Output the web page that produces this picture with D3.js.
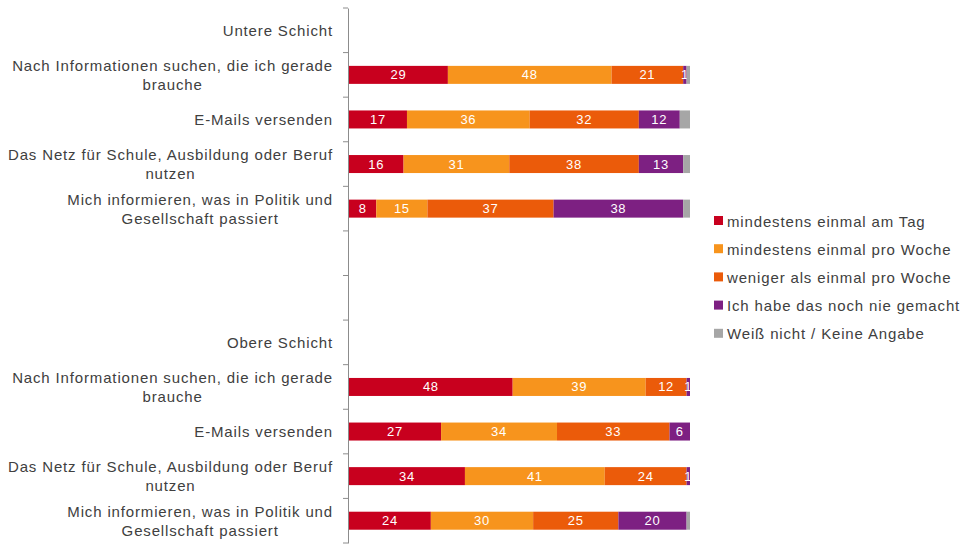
<!DOCTYPE html>
<html><head><meta charset="utf-8">
<script src="https://cdn.jsdelivr.net/npm/d3@7/dist/d3.min.js"></script>
<style>
html,body{margin:0;padding:0;background:#fff;}
svg text{font-family:"Liberation Sans",Arial,sans-serif;}
</style></head>
<body><svg id="c" width="963" height="546"></svg>
<script>
// Row labels (empty strings = spacer rows); "\n" separates lines
const categories = [
  "Untere Schicht",
  "Nach Informationen suchen, die ich gerade\nbrauche",
  "E-Mails versenden",
  "Das Netz für Schule, Ausbildung oder Beruf\nnutzen",
  "Mich informieren, was in Politik und\nGesellschaft passiert",
  "",
  "",
  "Obere Schicht",
  "Nach Informationen suchen, die ich gerade\nbrauche",
  "E-Mails versenden",
  "Das Netz für Schule, Ausbildung oder Beruf\nnutzen",
  "Mich informieren, was in Politik und\nGesellschaft passiert"
];
const seriesNames = [
  "mindestens einmal am Tag",
  "mindestens einmal pro Woche",
  "weniger als einmal pro Woche",
  "Ich habe das noch nie gemacht",
  "Weiß nicht / Keine Angabe"
];
const colors = ["#c8001e","#f7941d","#eb5b0a","#7d2082","#a6a6a6"];
// values per series, aligned to categories (null = no bar)
const tag    = [null,29,17,16,8, null,null, null,48,27,34,24];
const woche  = [null,48,36,31,15,null,null, null,39,34,41,30];
const weniger= [null,21,32,38,37,null,null, null,12,33,24,25];
const nie    = [null,1,12,13,38, null,null, null,1,6,1,20];
const wn     = [null,1,3,2,2,    null,null, null,0,0,0,1];
const series = [tag,woche,weniger,nie,wn];
const showLabel = [true,true,true,true,false];

const svg = d3.select("#c");
const textColor = "#404040";
const x0 = 349;
const x = d3.scaleLinear().domain([0,100]).range([x0, x0+341]);
const idx = categories.map((d,i)=>i);
const y = d3.scaleBand().domain(idx).range([8,543]).paddingInner(0).paddingOuter(0);
const barH = 18;

// axis
const axis = d3.axisLeft(y).tickSize(0).tickFormat("");
const ag = svg.append("g").attr("transform",`translate(${x0-1},0)`).call(axis);
ag.select(".domain").attr("stroke","#8c8c8c").attr("stroke-width",1);
// boundary ticks
const bounds = idx.map(i=>y(i)).concat([y(idx[idx.length-1])+y.bandwidth()]);
ag.selectAll(".bt").data(bounds).enter().append("line")
  .attr("x1",-5).attr("x2",0).attr("y1",d=>d).attr("y2",d=>d)
  .attr("stroke","#8c8c8c").attr("stroke-width",1);

// bars
const rows = idx.filter(i=>series[0][i]!==null);
series.forEach((s,si)=>{
  const g = svg.append("g");
  rows.forEach(i=>{
    let start = 0;
    for(let k=0;k<si;k++) start += series[k][i];
    const v = s[i];
    const cy = y(i)+y.bandwidth()/2;
    if(v>0){
      g.append("rect").attr("x",x(start)).attr("y",cy-barH/2)
        .attr("width",x(start+v)-x(start)).attr("height",barH)
        .attr("fill",colors[si]);
      if(showLabel[si]){
        g.append("text").attr("x",(x(start)+x(start+v))/2).attr("y",cy+4.5)
          .attr("text-anchor","middle").attr("fill","#fff")
          .attr("font-size",13).attr("letter-spacing",0.7).text(v);
      }
    }
  });
});

// category labels
idx.forEach(i=>{
  const lines = categories[i].split("\n").filter(s=>s.length);
  if(!lines.length) return;
  const cy = y(i)+y.bandwidth()/2;
  const t = svg.append("text").attr("font-size",15).attr("fill",textColor)
    .attr("letter-spacing",0.85);
  const lh = 19;
  const top = cy - (lines.length-1)*lh/2 + 5.5;
  lines.forEach((l,j)=>{
    t.append("tspan").attr("x",0).attr("y",top+j*lh).text(l);
  });
  const widths = [];
  t.selectAll("tspan").each(function(){widths.push(this.getComputedTextLength());});
  const w = d3.max(widths);
  const right = 333;
  t.selectAll("tspan").attr("x",right - w/2).attr("text-anchor","middle");
});

// legend
const lg = svg.append("g").attr("transform","translate(714,221)");
seriesNames.forEach((n,i)=>{
  const g = lg.append("g").attr("transform",`translate(0,${i*28.2})`);
  g.append("rect").attr("x",0).attr("y",-5).attr("width",9).attr("height",9).attr("fill",colors[i]);
  g.append("text").attr("x",13).attr("y",5.5).attr("font-size",15).attr("fill",textColor)
    .attr("letter-spacing",0.85).text(n);
});
</script></body></html>
